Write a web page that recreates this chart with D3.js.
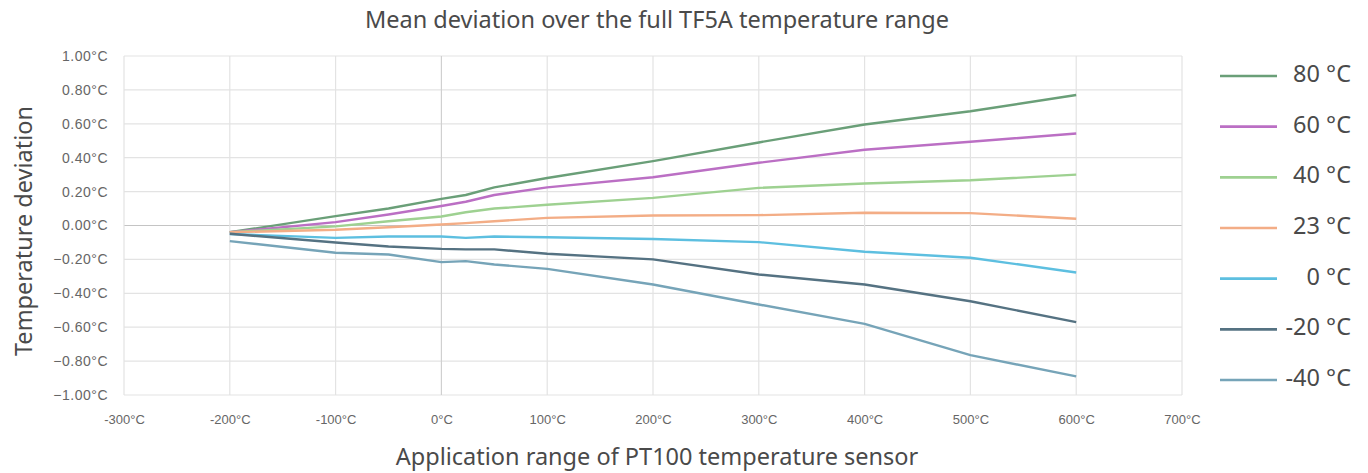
<!DOCTYPE html>
<html><head><meta charset="utf-8">
<script src="https://cdn.jsdelivr.net/npm/d3@7"></script>
<style>body{margin:0;background:#fff}svg{display:block}</style>
</head><body><svg id="c" width="1368" height="473"></svg>
<script>
const xPoints = [-200, -100, -50, 0, 23, 50, 100, 200, 300, 400, 500, 600];
const seriesNames = ["80 °C", "60 °C", "40 °C", "23 °C", "0 °C", "-20 °C", "-40 °C"];
const s80  = [-0.04, 0.055, 0.10, 0.157, 0.18, 0.225, 0.28, 0.38, 0.49, 0.596, 0.674, 0.77];
const s60  = [-0.04, 0.02, 0.065, 0.115, 0.14, 0.18, 0.225, 0.285, 0.37, 0.447, 0.494, 0.543];
const s40  = [-0.04, -0.005, 0.025, 0.053, 0.078, 0.10, 0.122, 0.163, 0.222, 0.248, 0.267, 0.30];
const s23  = [-0.04, -0.025, -0.01, 0.006, 0.014, 0.025, 0.045, 0.059, 0.061, 0.075, 0.073, 0.04];
const s0   = [-0.05, -0.073, -0.065, -0.065, -0.073, -0.065, -0.069, -0.08, -0.098, -0.155, -0.19, -0.277];
const sM20 = [-0.049, -0.10, -0.124, -0.138, -0.141, -0.141, -0.167, -0.20, -0.289, -0.348, -0.447, -0.57];
const sM40 = [-0.092, -0.161, -0.171, -0.216, -0.21, -0.23, -0.256, -0.348, -0.466, -0.58, -0.765, -0.89];
const xTicks = [-300, -200, -100, 0, 100, 200, 300, 400, 500, 600, 700];
const yTicks = [1.0, 0.8, 0.6, 0.4, 0.2, 0.0, -0.2, -0.4, -0.6, -0.8, -1.0];
const titleText = "Mean deviation over the full TF5A temperature range";
const xTitle = "Application range of PT100 temperature sensor";
const yTitle = "Temperature deviation";

const seriesValues = [s80, s60, s40, s23, s0, sM20, sM40];
const colors = ["#6a9f78", "#bb6fc4", "#9ed191", "#f3ad86", "#5dbfe0", "#557282", "#76a4b8"];

const svg = d3.select("#c");
const pLeft = 124, pRight = 1182, pTop = 56, pBottom = 395;
const x = d3.scaleLinear().domain([-300, 700]).range([pLeft, pRight]);
const y = d3.scaleLinear().domain([-1, 1]).range([pBottom, pTop]);

// grid
const g = svg.append("g");
g.selectAll("line.h").data(yTicks).join("line")
  .attr("x1", pLeft).attr("x2", pRight)
  .attr("y1", d => y(d)).attr("y2", d => y(d))
  .attr("stroke", d => d === 0 ? "#c4c4c4" : "#e3e3e3").attr("stroke-width", 1.2);
g.selectAll("line.v").data(xTicks).join("line")
  .attr("y1", pTop).attr("y2", pBottom)
  .attr("x1", d => x(d)).attr("x2", d => x(d))
  .attr("stroke", d => d === 0 ? "#d0d0d0" : "#e3e3e3").attr("stroke-width", 1.2);

// axes
const yAxis = d3.axisLeft(y).tickValues(yTicks).tickSize(0).tickPadding(16)
  .tickFormat(d => d3.format(".2f")(d) + "°C");
const ya = svg.append("g").attr("transform", `translate(${pLeft},0)`).call(yAxis);
ya.select(".domain").remove();
ya.selectAll("text").attr("font-family", "Liberation Sans, Arial, sans-serif").attr("font-size", 14)
  .attr("letter-spacing", 0.5).attr("fill", "#666");

const xAxis = d3.axisBottom(x).tickValues(xTicks).tickSize(0).tickPadding(20)
  .tickFormat(d => d + "°C");
const xa = svg.append("g").attr("transform", `translate(0,${pBottom})`).call(xAxis);
xa.select(".domain").remove();
xa.selectAll("text").attr("font-family", "Liberation Sans, Arial, sans-serif").attr("font-size", 13).attr("fill", "#666");

// lines
const line = d3.line().x((d, i) => x(xPoints[i])).y(d => y(d));
svg.append("g").selectAll("path").data(seriesValues).join("path")
  .attr("d", d => line(d)).attr("fill", "none")
  .attr("stroke", (d, i) => colors[i]).attr("stroke-width", 2.4)
  .attr("stroke-linejoin", "round");

// titles
const tf = "Noto Sans, sans-serif", tc = "#4a4a4a";
svg.append("text").attr("x", 657).attr("y", 28).attr("text-anchor", "middle")
  .attr("font-family", tf).attr("font-size", 23.5).attr("fill", tc)
  .text(titleText);
svg.append("text").attr("x", 657).attr("y", 465).attr("text-anchor", "middle")
  .attr("font-family", tf).attr("font-size", 23.5).attr("fill", tc)
  .text(xTitle);
svg.append("text").attr("transform", "translate(32,231) rotate(-90)").attr("text-anchor", "middle")
  .attr("font-family", tf).attr("font-size", 23.5).attr("fill", tc)
  .text(yTitle);

// legend
const leg = svg.append("g");
const ly = d3.scalePoint().domain(seriesNames).range([76, 380]);
seriesNames.forEach((n, i) => {
  leg.append("line").attr("x1", 1220).attr("x2", 1277).attr("y1", ly(n)).attr("y2", ly(n))
    .attr("stroke", colors[i]).attr("stroke-width", 2.6);
  leg.append("text").attr("x", 1351).attr("y", ly(n) + 6).attr("text-anchor", "end")
    .attr("font-family", tf).attr("font-size", 23.5).attr("fill", tc)
    .text(n);
});
</script></body></html>
